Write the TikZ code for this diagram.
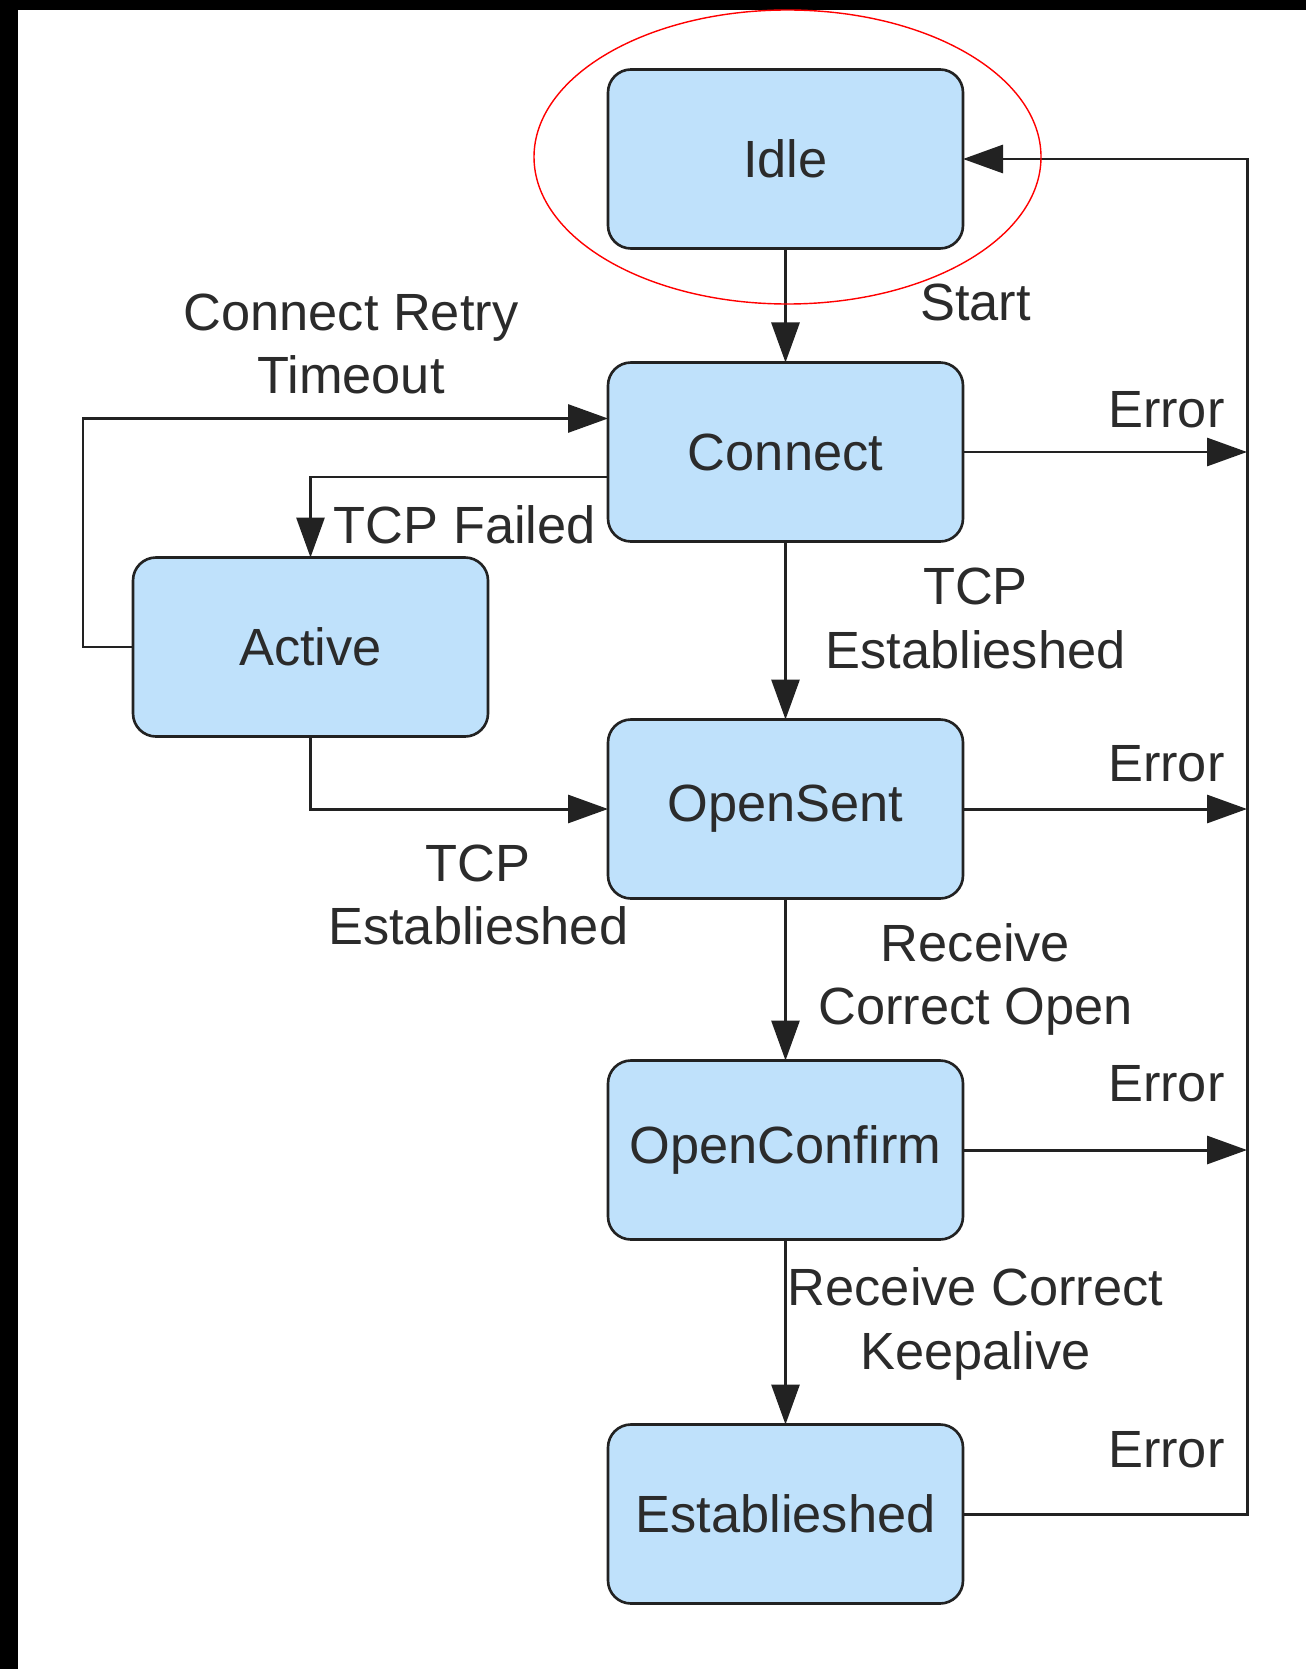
\documentclass[tikz,border=0pt]{standalone}
\usepackage{fontspec}
\setmainfont{Liberation Sans}
\usetikzlibrary{arrows.meta, positioning}
\definecolor{stateblue}{HTML}{BFE1FB}
\definecolor{edgegrey}{HTML}{222222}
\definecolor{textgrey}{HTML}{2B2B2B}
\tikzset{
  state/.style={rectangle, rounded corners=0.46cm, draw=edgegrey, line width=1.5pt, fill=stateblue,
    minimum width=7.1cm, minimum height=3.58cm, inner sep=0pt, outer sep=0pt, align=center,
    font=\fontsize{29.8pt}{36.2pt}\selectfont, text=textgrey},
  lbl/.style={font=\fontsize{29.8pt}{36.2pt}\selectfont, text=textgrey, align=center, inner sep=0pt},
  arrow/.style={-{Triangle[length=0.8cm, width=0.56cm]}, line width=1.7pt, edgegrey},
}

\begin{document}
\begin{tikzpicture}
\useasboundingbox (0,0) rectangle (26.12,-33.38);
\fill[white] (0,0) rectangle (26.12,-33.38);
\fill[black] (0,0) rectangle (0.36,-33.38);
\fill[black] (0,0) rectangle (26.12,-0.2);

\node[state] (idle) at (15.71,-3.18) {Idle};
\node[state, below=2.28cm of idle] (conn) {Connect};
\node[state, below left=0.32cm and 2.4cm of conn] (act) {Active};
\node[state, below=3.56cm of conn] (os) {OpenSent};
\node[state, below=3.24cm of os] (oc) {OpenConfirm};
\node[state, below=3.7cm of oc] (est) {Establieshed};
\coordinate (bustop) at ([xshift=5.68cm]idle.east);

\draw[arrow] (idle) -- node[lbl, xshift=3.8cm, yshift=0.07cm] (lblstart) {Start} (conn);
\draw[arrow] (conn) -- node[lbl, xshift=3.8cm, yshift=0.24cm] (lbltcp) {TCP\\Establieshed} (os);
\draw[arrow] (os) -- node[lbl, xshift=3.8cm] (lblopen) {Receive\\Correct Open} (oc);
\draw[arrow] (oc) -- node[lbl, xshift=3.8cm, yshift=0.16cm] (lblkeep) {Receive Correct\\Keepalive} (est);

\draw[arrow] ([yshift=-0.5cm]conn.west) -| node[lbl, pos=0.75, anchor=west, xshift=0.44cm, yshift=-0.16cm] (lblfail) {TCP Failed} (act.north);
\draw[arrow] (act.west) -- ++(-1.0cm,0) |- node[lbl, pos=0.75, xshift=0.11cm, yshift=1.49cm] (lblretry) {Connect Retry\\Timeout} ([yshift=0.67cm]conn.west);
\draw[arrow] (act.south) |- node[lbl, pos=0.75, xshift=0.38cm, yshift=-1.72cm] (lblact) {TCP\\Establieshed} (os.west);

% errors go to the bus on the right
\draw[arrow] (conn.east) -- node[lbl, pos=1, anchor=east, xshift=-0.42cm, yshift=0.85cm] (lblerr1) {Error} (conn.east -| bustop);
\draw[arrow] (os.east) -- node[lbl, pos=1, anchor=east, xshift=-0.42cm, yshift=0.91cm] (lblerr2) {Error} (os.east -| bustop);
\draw[arrow] (oc.east) -- node[lbl, pos=1, anchor=east, xshift=-0.42cm, yshift=1.33cm] (lblerr3) {Error} (oc.east -| bustop);
\draw[arrow] (est.east) -| node[lbl, pos=0.5, anchor=east, xshift=-0.42cm, yshift=1.29cm] (lblerr4) {Error} (bustop) -- (idle.east);

\draw[red, line width=0.8pt] ([shift={(0.04,0.04)}]idle.center) ellipse [x radius=5.07cm, y radius=2.94cm];
\end{tikzpicture}
\end{document}
